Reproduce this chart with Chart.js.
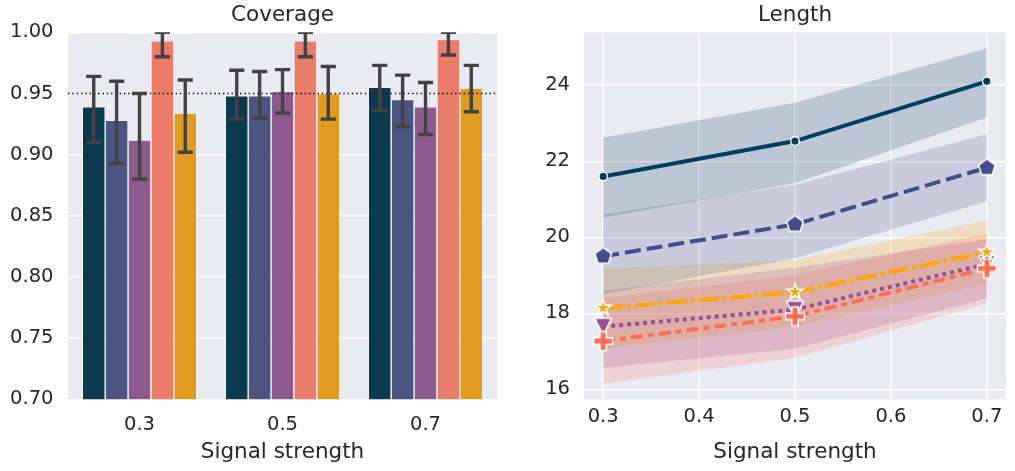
<!DOCTYPE html>
<html>
<head>
<meta charset="utf-8">
<script src="https://cdn.jsdelivr.net/npm/chart.js@4.4.1/dist/chart.umd.min.js"></script>
<style>
  body { margin: 0; background: #fff; }
  #wrap { position: relative; width: 1015px; height: 471px; }
  canvas { position: absolute; top: 0; }
  #covChart { left: 0; }
  #lenChart { left: 507px; }
</style>
</head>
<body>
<div id="wrap">
  <canvas id="covChart" width="507" height="471"></canvas>
  <canvas id="lenChart" width="508" height="471"></canvas>
</div>
<script>
// --- data ---
const categories = ['0.3', '0.5', '0.7'];
const signal = [0.3, 0.5, 0.7];

// coverage (bar height, lower / upper error)
const covNavy = [0.939, 0.948, 0.955];
const covNavyLo = [0.910, 0.929, 0.936];
const covNavyHi = [0.964, 0.969, 0.973];
const covSlate = [0.928, 0.948, 0.945];
const covSlateLo = [0.893, 0.930, 0.923];
const covSlateHi = [0.960, 0.968, 0.965];
const covPlum = [0.912, 0.9515, 0.939];
const covPlumLo = [0.880, 0.934, 0.9165];
const covPlumHi = [0.950, 0.9695, 0.959];
const covSalmon = [0.993, 0.993, 0.994];
const covSalmonLo = [0.980, 0.980, 0.9815];
const covSalmonHi = [1.0, 1.0, 1.0];
const covAmber = [0.934, 0.950, 0.9545];
const covAmberLo = [0.902, 0.929, 0.935];
const covAmberHi = [0.961, 0.972, 0.973];

// length (mean line, lower / upper band)
const lenNavy = [21.6, 22.53, 24.1];
const lenNavyLo = [20.52, 21.42, 23.15];
const lenNavyHi = [22.62, 23.54, 24.97];
const lenSlate = [19.5, 20.34, 21.83];
const lenSlateLo = [18.5, 19.45, 20.95];
const lenSlateHi = [20.6, 21.38, 22.71];
const lenPlum = [17.65, 18.1, 19.3];
const lenPlumLo = [16.57, 17.07, 18.4];
const lenPlumHi = [18.6, 19.2, 19.95];
const lenSalmon = [17.27, 17.92, 19.18];
const lenSalmonLo = [16.15, 16.83, 18.26];
const lenSalmonHi = [18.4, 19.0, 20.1];
const lenAmber = [18.14, 18.56, 19.61];
const lenAmberLo = [17.07, 17.65, 18.78];
const lenAmberHi = [19.18, 19.4, 20.45];

const covTicks = [0.70, 0.75, 0.80, 0.85, 0.90, 0.95, 1.00];
const lenTicks = [16, 18, 20, 22, 24];
const signalTicks = [0.3, 0.4, 0.5, 0.6, 0.7];
const nominal = 0.95;

// --- styling ---
const FONT = "'DejaVu Sans', sans-serif";
const TEXT = '#262626';
const palette = ['#003f5c', '#444e86', '#955196', '#ff6e54', '#ffa600'];
const barPalette = ['#0c3b50', '#4c5480', '#8d5a8d', '#ea7d69', '#df9c20']; // desaturated like seaborn bars

Chart.defaults.font.family = FONT;
Chart.defaults.color = TEXT;

function rgba(hex, a) {
  const n = parseInt(hex.slice(1), 16);
  return `rgba(${n >> 16}, ${(n >> 8) & 255}, ${n & 255}, ${a})`;
}

// grey plot background (seaborn darkgrid)
const plotBg = {
  id: 'plotBg',
  beforeDraw(chart) {
    const { ctx, chartArea: a } = chart;
    ctx.save();
    ctx.fillStyle = '#eaeaf2';
    ctx.fillRect(a.left, a.top, a.width, a.height);
    ctx.restore();
  }
};

// nominal level line + error bars on top of the bars
const errorBars = {
  id: 'errorBars',
  afterDatasetsDraw(chart) {
    const { ctx, chartArea: a, scales: { y } } = chart;
    ctx.save();
    ctx.beginPath();
    ctx.rect(a.left, a.top, a.width, a.height);
    ctx.clip();

    const yRef = y.getPixelForValue(nominal);
    ctx.strokeStyle = '#111';
    ctx.lineWidth = 1.6;
    ctx.setLineDash([1.6, 2.7]);
    ctx.beginPath();
    ctx.moveTo(a.left, yRef);
    ctx.lineTo(a.right, yRef);
    ctx.stroke();
    ctx.setLineDash([]);

    ctx.strokeStyle = '#424242';
    ctx.lineWidth = 3.4;
    chart.data.datasets.forEach((ds, i) => {
      chart.getDatasetMeta(i).data.forEach((bar, j) => {
        const lo = y.getPixelForValue(ds.errLow[j]);
        const hi = y.getPixelForValue(ds.errHigh[j]);
        const cap = 7.6;
        ctx.beginPath();
        ctx.moveTo(bar.x, lo); ctx.lineTo(bar.x, hi);
        ctx.moveTo(bar.x - cap, lo); ctx.lineTo(bar.x + cap, lo);
        ctx.moveTo(bar.x - cap, hi); ctx.lineTo(bar.x + cap, hi);
        ctx.stroke();
      });
    });
    ctx.restore();
  }
};

// --- 1. BAR CHART: Coverage ---
const covSeries = [
  [covNavy, covNavyLo, covNavyHi],
  [covSlate, covSlateLo, covSlateHi],
  [covPlum, covPlumLo, covPlumHi],
  [covSalmon, covSalmonLo, covSalmonHi],
  [covAmber, covAmberLo, covAmberHi]
];

new Chart(document.getElementById('covChart'), {
  type: 'bar',
  data: {
    labels: categories,
    datasets: covSeries.map(([mean, lo, hi], k) => ({
      data: mean,
      errLow: lo,
      errHigh: hi,
      backgroundColor: barPalette[k],
      borderColor: '#ffffff',
      borderWidth: 0.7,
      categoryPercentage: 0.8,
      barPercentage: 1.0
    }))
  },
  options: {
    responsive: false,
    animation: false,
    events: [],
    layout: { padding: { left: 0, right: 10, top: 0, bottom: 0 } },
    plugins: {
      legend: { display: false },
      tooltip: { enabled: false },
      title: {
        display: true, text: 'Coverage', fullSize: false, color: TEXT,
        font: { size: 21.5, weight: 'normal' },
        padding: { top: 2.5, bottom: 4 }
      }
    },
    scales: {
      x: {
        grid: { display: false },
        border: { display: false },
        ticks: { font: { size: 19.5 }, padding: 6, color: TEXT },
        title: { display: true, text: 'Signal strength', color: TEXT, font: { size: 21.5 }, padding: { top: 0, bottom: 6 } },
        afterFit(s) { s.height = 71.7; }
      },
      y: {
        min: 0.7, max: 1.0,
        grid: { color: '#ffffff', lineWidth: 1.4, drawTicks: false },
        border: { display: false },
        ticks: { font: { size: 19.5 }, padding: 14.5, color: TEXT, callback: v => v.toFixed(2) },
        afterBuildTicks(s) { s.ticks = covTicks.map(v => ({ value: v })); },
        afterFit(s) { s.width = 68; }
      }
    }
  },
  plugins: [plotBg, errorBars]
});

// --- 2. LINE CHART: Length with bands ---
function marker(shape, color) {
  const size = 26;
  const c = document.createElement('canvas');
  c.width = size; c.height = size;
  const g = c.getContext('2d');
  g.translate(size / 2, size / 2);
  g.beginPath();
  shape(g);
  g.closePath();
  g.fillStyle = color;
  g.fill();
  g.lineWidth = 1.5;
  g.strokeStyle = '#ffffff';
  g.stroke();
  return c;
}
const pentagon = g => {
  for (let i = 0; i < 5; i++) {
    const t = -Math.PI / 2 + i * 2 * Math.PI / 5;
    g.lineTo(8.8 * Math.cos(t), 8.8 * Math.sin(t));
  }
};
const star = g => {
  for (let i = 0; i < 10; i++) {
    const r = i % 2 ? 8.6 * 0.382 : 8.6;
    const t = -Math.PI / 2 + i * Math.PI / 5;
    g.lineTo(r * Math.cos(t), r * Math.sin(t));
  }
};
const triDown = g => { g.moveTo(-8.5, -8.5); g.lineTo(8.5, -8.5); g.lineTo(0, 8.5); };
const plus = g => {
  const a = 3.2, b = 9.5;
  [[-a, -b], [a, -b], [a, -a], [b, -a], [b, a], [a, a], [a, b], [-a, b], [-a, a], [-b, a], [-b, -a], [-a, -a]]
    .forEach(([x, y]) => g.lineTo(x, y));
};

const lenSeries = [
  { mean: lenNavy, lo: lenNavyLo, hi: lenNavyHi, dash: [], marker: 'circle' },
  { mean: lenSlate, lo: lenSlateLo, hi: lenSlateHi, dash: [16, 6], marker: marker(pentagon, palette[1]) },
  { mean: lenPlum, lo: lenPlumLo, hi: lenPlumHi, dash: [4, 4], marker: marker(triDown, palette[2]) },
  { mean: lenSalmon, lo: lenSalmonLo, hi: lenSalmonHi, dash: [12, 5, 6, 5], marker: marker(plus, palette[3]) },
  { mean: lenAmber, lo: lenAmberLo, hi: lenAmberHi, dash: [20, 4, 4, 4], marker: marker(star, palette[4]) }
];

const pts = arr => arr.map((v, i) => ({ x: signal[i], y: v }));
const lenDatasets = [];
lenSeries.forEach((s, k) => {
  lenDatasets.push({ data: pts(s.lo), borderColor: 'transparent', borderWidth: 0, pointRadius: 0, fill: false, order: 10 });
  lenDatasets.push({ data: pts(s.hi), borderColor: 'transparent', borderWidth: 0, pointRadius: 0, fill: 2 * k, backgroundColor: rgba(palette[k], 0.2), order: 10 });
});
lenSeries.forEach((s, k) => {
  const isCircle = s.marker === 'circle';
  lenDatasets.push({
    data: pts(s.mean),
    borderColor: palette[k],
    borderWidth: 4,
    borderDash: s.dash,
    fill: false,
    pointStyle: s.marker,
    pointRadius: isCircle ? 4.3 : 9,
    pointBackgroundColor: palette[k],
    pointBorderColor: '#ffffff',
    pointBorderWidth: isCircle ? 1.4 : 0,
    order: 5 - k
  });
});

new Chart(document.getElementById('lenChart'), {
  type: 'line',
  data: { datasets: lenDatasets },
  options: {
    responsive: false,
    animation: false,
    events: [],
    layout: { padding: { left: 0, right: 2.3, top: 0, bottom: 0 } },
    plugins: {
      legend: { display: false },
      tooltip: { enabled: false },
      filler: { drawTime: 'beforeDatasetsDraw' },
      title: {
        display: true, text: 'Length', fullSize: false, color: TEXT,
        font: { size: 21.5, weight: 'normal' },
        padding: { top: 2.5, bottom: 4 }
      }
    },
    scales: {
      x: {
        type: 'linear', min: 0.28, max: 0.72,
        grid: { color: '#ffffff', lineWidth: 1.4, drawTicks: false },
        border: { display: false },
        ticks: { font: { size: 19.5 }, padding: 6, color: TEXT, callback: v => v.toFixed(1) },
        title: { display: true, text: 'Signal strength', color: TEXT, font: { size: 21.5 }, padding: { top: 0, bottom: 6 } },
        afterBuildTicks(s) { s.ticks = signalTicks.map(v => ({ value: v })); },
        afterFit(s) { s.height = 71.7; }
      },
      y: {
        min: 15.74, max: 25.39,
        grid: { color: '#ffffff', lineWidth: 1.4, drawTicks: false },
        border: { display: false },
        ticks: { font: { size: 19.5 }, padding: 14, color: TEXT, callback: v => String(v) },
        afterBuildTicks(s) { s.ticks = lenTicks.map(v => ({ value: v })); },
        afterFit(s) { s.width = 77; }
      }
    }
  },
  plugins: [plotBg]
});
</script>
</body>
</html>
